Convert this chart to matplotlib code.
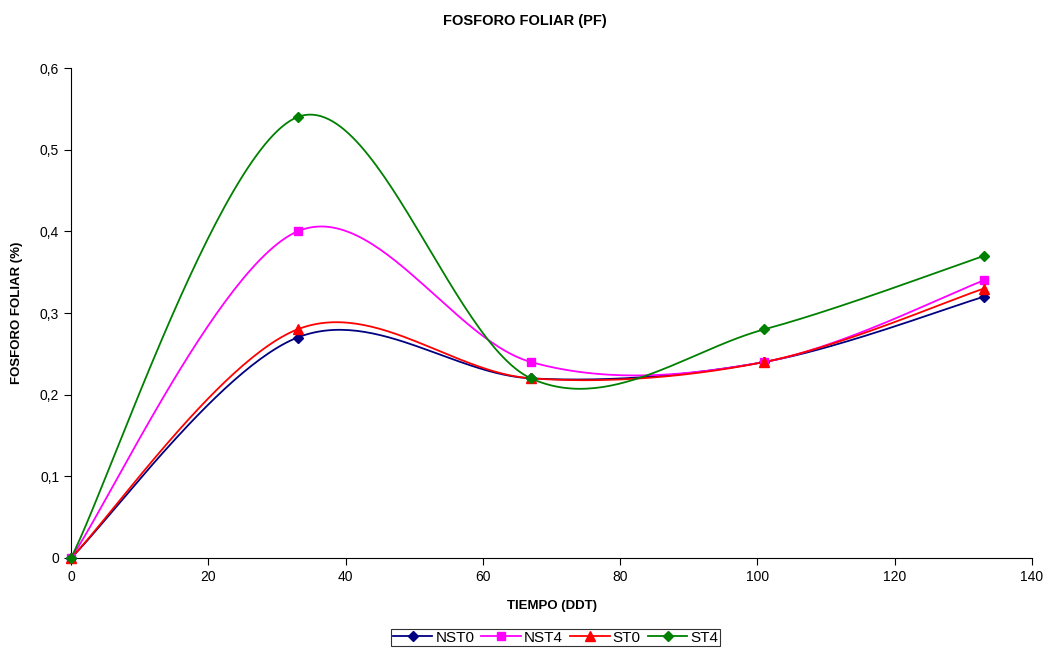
import numpy as np
import matplotlib
matplotlib.use("Agg")
import matplotlib.pyplot as plt

plt.rcParams['font.family'] = ['Liberation Sans', 'DejaVu Sans']

# tiempo en días después del trasplante
dias = [0, 33, 67, 101, 133]

nst0 = [0, 0.27, 0.22, 0.24, 0.32]
nst4 = [0, 0.40, 0.24, 0.24, 0.34]
st0 = [0, 0.28, 0.22, 0.24, 0.33]
st4 = [0, 0.54, 0.22, 0.28, 0.37]

series = [
    ("NST0", nst0, "#000080", "D", 5),
    ("NST4", nst4, "#FF00FF", "s", 6),
    ("ST0", st0, "#FF0000", "^", 7),
    ("ST4", st4, "#008000", "D", 5),
]


def suavizar(ax, x, y, n=60):
    # curva Bezier tipo Excel, calculada en pixeles
    pts = ax.transData.transform(np.column_stack([x, y]))
    p = np.vstack([pts[0], pts, pts[-1]])
    out = []
    for i in range(1, len(p) - 2):
        p0, p1, p2, p3 = p[i - 1], p[i], p[i + 1], p[i + 2]
        c1 = p1 + (p2 - p0) / 6.0
        c2 = p2 - (p3 - p1) / 6.0
        t = np.linspace(0, 1, n)[:, None]
        b = ((1 - t) ** 3) * p1 + 3 * ((1 - t) ** 2) * t * c1 + 3 * (1 - t) * t ** 2 * c2 + t ** 3 * p2
        out.append(b if i == 1 else b[1:])
    out = np.vstack(out)
    return ax.transData.inverted().transform(out)


fig = plt.figure(figsize=(10.49, 6.48), dpi=100)
ax = fig.add_axes([0.0677, 0.1389, 0.9161, 0.7561])
ax.set_xlim(0, 140)
ax.set_ylim(0, 0.6)

for nombre, vals, color, mk, ms in series:
    curva = suavizar(ax, dias, vals)
    ax.plot(curva[:, 0], curva[:, 1], color=color, lw=1.3)
    ax.plot(dias, vals, linestyle='none', marker=mk, color=color, markersize=ms,
            clip_on=False, zorder=4)
    ax.plot([], [], color=color, lw=1.3, marker=mk, markersize=ms, label=nombre)

ax.set_xticks(np.arange(0, 141, 20))
ax.set_yticks(np.arange(0, 0.61, 0.1))
ax.set_yticklabels(["0", "0,1", "0,2", "0,3", "0,4", "0,5", "0,6"])
ax.tick_params(labelsize=10, direction='out', length=5, width=0.8)
ax.spines['top'].set_visible(False)
ax.spines['right'].set_visible(False)

ax.set_xlabel("TIEMPO (DDT)", fontsize=9.5, fontweight='bold', labelpad=12)
ax.set_ylabel("FOSFORO FOLIAR (%)", fontsize=9.5, fontweight='bold', labelpad=12)
fig.text(0.5, 0.967, "FOSFORO FOLIAR (PF)", ha='center', va='center',
         fontsize=10.5, fontweight='bold')

leg = fig.legend(loc='center', bbox_to_anchor=(0.5296, 0.016), ncol=4, fontsize=11,
                 frameon=True, fancybox=False, handlelength=2.6, handletextpad=0.2,
                 columnspacing=0.45, borderpad=0.1, borderaxespad=0)
leg.get_frame().set_edgecolor('black')
leg.get_frame().set_linewidth(0.8)

fig.savefig("out.png", dpi=100)
